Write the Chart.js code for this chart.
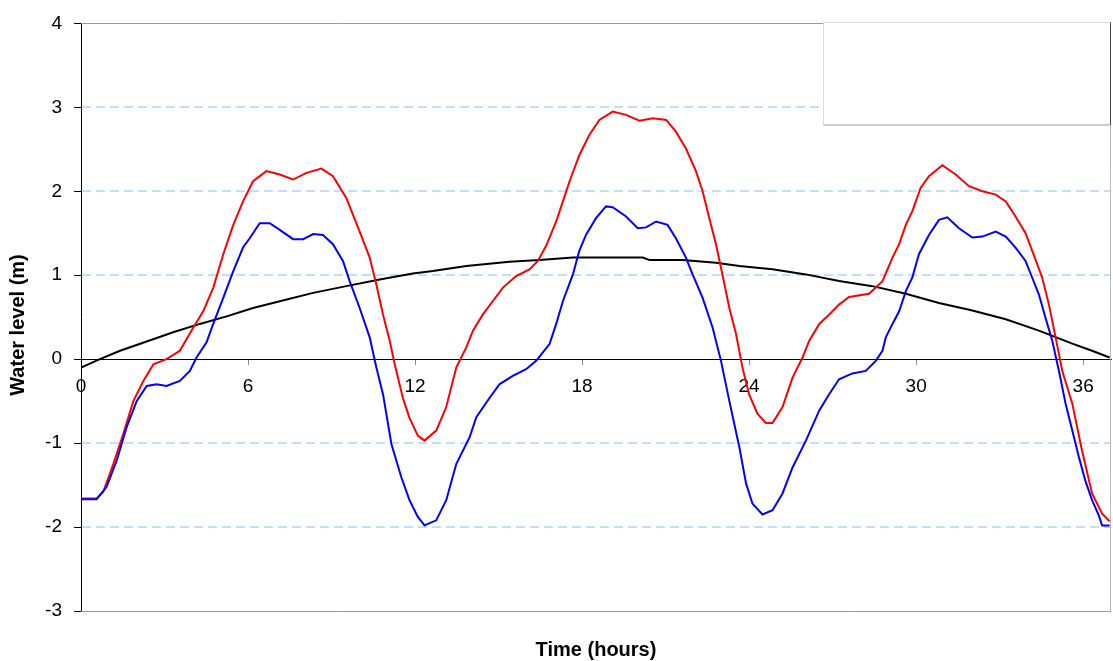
<!DOCTYPE html>
<html>
<head>
<meta charset="utf-8">
<script src="https://cdn.jsdelivr.net/npm/chart.js@4/dist/chart.umd.min.js"></script>
<style>
  html, body { margin: 0; padding: 0; background: #fff; }
  canvas { display: block; }
</style>
</head>
<body>
<canvas id="c" width="1113" height="661"></canvas>
<script>
// Tide gauge record: water level (m) against time (hours)
const redHours = [0, 0.56, 0.8, 1.16, 1.52, 1.88, 2.24, 2.6, 3.07, 3.55, 4.03, 4.39, 4.75, 5.11, 5.47, 5.82, 6.18, 6.66, 7.14, 7.62, 8.1, 8.64, 9.05, 9.53, 10.01, 10.37, 10.61, 10.85, 11.09, 11.27, 11.56, 11.8, 12.1, 12.34, 12.76, 13.12, 13.48, 13.84, 14.08, 14.43, 14.79, 15.15, 15.63, 16.11, 16.41, 16.71, 17.07, 17.31, 17.55, 17.9, 18.26, 18.62, 19.1, 19.58, 20.06, 20.54, 21.02, 21.37, 21.73, 22.09, 22.33, 22.57, 22.81, 22.99, 23.29, 23.53, 23.76, 24.0, 24.3, 24.6, 24.84, 25.2, 25.56, 25.92, 26.16, 26.52, 26.87, 27.23, 27.59, 28.31, 28.79, 29.15, 29.39, 29.63, 29.86, 30.16, 30.46, 30.94, 31.42, 31.9, 32.38, 32.86, 33.22, 33.57, 33.93, 34.17, 34.53, 34.77, 35.01, 35.25, 35.61, 35.96, 36.32, 36.68, 36.95];
const redLevels = [-1.66, -1.66, -1.58, -1.25, -0.89, -0.50, -0.26, -0.06, 0.00, 0.10, 0.375, 0.57, 0.85, 1.25, 1.60, 1.88, 2.12, 2.24, 2.20, 2.14, 2.22, 2.27, 2.18, 1.92, 1.52, 1.21, 0.89, 0.53, 0.22, -0.06, -0.46, -0.70, -0.91, -0.97, -0.85, -0.57, -0.10, 0.14, 0.34, 0.53, 0.69, 0.85, 0.99, 1.07, 1.17, 1.35, 1.64, 1.88, 2.12, 2.43, 2.67, 2.85, 2.95, 2.91, 2.84, 2.87, 2.85, 2.71, 2.51, 2.24, 2.00, 1.68, 1.37, 1.09, 0.61, 0.30, -0.10, -0.42, -0.65, -0.76, -0.76, -0.57, -0.22, 0.02, 0.22, 0.42, 0.53, 0.65, 0.74, 0.78, 0.93, 1.21, 1.37, 1.60, 1.76, 2.04, 2.18, 2.31, 2.20, 2.06, 2.00, 1.96, 1.88, 1.70, 1.50, 1.29, 0.97, 0.65, 0.26, -0.14, -0.53, -1.09, -1.60, -1.84, -1.93];

const blueHours = [0, 0.56, 0.92, 1.28, 1.64, 2.0, 2.36, 2.72, 3.07, 3.55, 3.91, 4.15, 4.51, 4.75, 5.11, 5.47, 5.82, 6.06, 6.42, 6.78, 7.14, 7.62, 7.98, 8.34, 8.69, 9.05, 9.41, 9.65, 10.01, 10.37, 10.61, 10.85, 11.15, 11.51, 11.8, 12.1, 12.34, 12.76, 13.12, 13.48, 13.96, 14.2, 14.68, 15.03, 15.51, 15.99, 16.35, 16.83, 17.07, 17.31, 17.67, 17.9, 18.14, 18.5, 18.86, 19.1, 19.58, 20.0, 20.3, 20.66, 21.07, 21.37, 21.73, 21.97, 22.33, 22.69, 22.99, 23.29, 23.65, 23.89, 24.12, 24.48, 24.84, 25.2, 25.56, 26.04, 26.52, 26.87, 27.23, 27.71, 28.19, 28.55, 28.79, 28.91, 29.15, 29.39, 29.63, 29.86, 30.1, 30.46, 30.82, 31.12, 31.54, 32.02, 32.38, 32.86, 33.22, 33.57, 33.93, 34.17, 34.41, 34.65, 34.89, 35.13, 35.37, 35.61, 35.85, 36.08, 36.32, 36.56, 36.68, 36.95];
const blueLevels = [-1.67, -1.67, -1.52, -1.21, -0.81, -0.50, -0.32, -0.30, -0.32, -0.26, -0.14, 0.02, 0.20, 0.42, 0.73, 1.05, 1.33, 1.44, 1.62, 1.62, 1.54, 1.43, 1.43, 1.49, 1.48, 1.37, 1.17, 0.93, 0.61, 0.26, -0.10, -0.42, -1.01, -1.41, -1.68, -1.88, -1.98, -1.92, -1.68, -1.25, -0.93, -0.69, -0.46, -0.30, -0.20, -0.12, -0.02, 0.18, 0.42, 0.69, 1.01, 1.29, 1.48, 1.68, 1.82, 1.81, 1.70, 1.56, 1.57, 1.64, 1.60, 1.44, 1.21, 1.01, 0.73, 0.375, -0.02, -0.50, -1.05, -1.48, -1.72, -1.85, -1.80, -1.60, -1.29, -0.97, -0.61, -0.42, -0.24, -0.17, -0.14, -0.02, 0.10, 0.26, 0.42, 0.57, 0.81, 0.97, 1.25, 1.48, 1.66, 1.69, 1.56, 1.45, 1.46, 1.52, 1.46, 1.33, 1.17, 0.97, 0.77, 0.49, 0.22, -0.14, -0.53, -0.85, -1.17, -1.45, -1.68, -1.86, -1.98, -1.98];

const blackHours = [0, 0.68, 1.4, 2.36, 3.31, 4.27, 5.23, 6.18, 7.14, 8.34, 9.53, 10.73, 11.92, 12.64, 13.84, 15.39, 16.47, 17.67, 20.18, 20.42, 21.61, 22.81, 23.65, 24.84, 26.04, 27.23, 28.43, 29.63, 30.82, 32.02, 33.22, 34.41, 35.61, 36.32, 36.95];
const blackLevels = [-0.10, 0.00, 0.10, 0.21, 0.32, 0.42, 0.51, 0.61, 0.69, 0.79, 0.87, 0.95, 1.02, 1.05, 1.11, 1.16, 1.18, 1.21, 1.21, 1.18, 1.18, 1.15, 1.11, 1.07, 1.01, 0.93, 0.87, 0.78, 0.67, 0.58, 0.475, 0.34, 0.185, 0.10, 0.02];

const hourTicks = [0, 6, 12, 18, 24, 30, 36];
const levelTicks = [-3, -2, -1, 0, 1, 2, 3, 4];

const xTitle = 'Time (hours)';
const yTitle = 'Water level (m)';

const FONT = '"Liberation Sans", Arial, Helvetica, sans-serif';

function pairs(xs, ys) {
  return xs.map((x, i) => ({ x: x, y: ys[i] }));
}

// Grid, frame, empty key box and axis titles
const framePlugin = {
  id: 'frame',
  beforeDatasetsDraw(chart) {
    const { ctx, chartArea: a } = chart;
    const ys = chart.scales.y;
    ctx.save();
    ctx.lineWidth = 1;
    const yt = Math.round(ys.getPixelForValue(4)) + 0.5;
    const yb = Math.round(ys.getPixelForValue(-3)) + 0.5;
    const y0 = Math.round(ys.getPixelForValue(0)) + 0.5;
    // dashed horizontal grid lines
    ctx.strokeStyle = 'rgb(172, 212, 255)';
    ctx.lineWidth = 1.5;
    ctx.setLineDash([9, 5]);
    ctx.beginPath();
    levelTicks.forEach((v) => {
      if (v === 0 || v === 4 || v === -3) return;
      const py = Math.round(ys.getPixelForValue(v));
      ctx.moveTo(a.left + 1, py); ctx.lineTo(a.right, py);
    });
    ctx.stroke();
    ctx.setLineDash([]);
    ctx.lineWidth = 1;
    // top and bottom plot edges
    ctx.strokeStyle = '#999999';
    ctx.beginPath();
    ctx.moveTo(a.left, yt); ctx.lineTo(a.right, yt);
    ctx.moveTo(a.left, yb); ctx.lineTo(a.right, yb);
    ctx.stroke();
    // zero line across the plot
    ctx.strokeStyle = '#000000';
    ctx.beginPath();
    ctx.moveTo(a.left, y0); ctx.lineTo(a.right, y0);
    ctx.stroke();
    // right edge
    ctx.strokeStyle = '#bbbbbb';
    ctx.beginPath();
    ctx.moveTo(a.right - 0.5, yt); ctx.lineTo(a.right - 0.5, yb);
    ctx.stroke();
    // key box
    const bx = 823.5, by = yt - 1, bw = a.right - 0.5 - bx, bh = 125 - by;
    ctx.fillStyle = '#ffffff';
    ctx.fillRect(bx, by, bw, bh);
    ctx.strokeStyle = '#dddddd';
    ctx.strokeRect(bx, by, bw, bh);
    ctx.strokeStyle = '#aaaaaa';
    ctx.beginPath();
    ctx.moveTo(bx, by + bh); ctx.lineTo(bx + bw, by + bh);
    ctx.stroke();
    ctx.strokeStyle = '#444444';
    ctx.beginPath();
    ctx.moveTo(bx + bw, by); ctx.lineTo(bx + bw, by + bh);
    ctx.stroke();
    ctx.restore();
  },
  afterDraw(chart) {
    const { ctx, chartArea: a } = chart;
    ctx.save();
    ctx.fillStyle = '#000000';
    ctx.font = 'bold 20px ' + FONT;
    ctx.textAlign = 'center';
    ctx.textBaseline = 'middle';
    ctx.fillText(xTitle, (a.left + a.right) / 2, 650);
    ctx.translate(18, 325);
    ctx.rotate(-Math.PI / 2);
    ctx.fillText(yTitle, 0, 0);
    ctx.restore();
  }
};

new Chart(document.getElementById('c'), {
  type: 'line',
  data: {
    datasets: [
      {
        label: 'Level A',
        data: pairs(blueHours, blueLevels),
        borderColor: '#0000ff',
        borderWidth: 2,
        pointRadius: 0,
        tension: 0,
        fill: false
      },
      {
        label: 'Level B',
        data: pairs(redHours, redLevels),
        borderColor: '#ff0000',
        borderWidth: 2,
        pointRadius: 0,
        tension: 0,
        fill: false
      },
      {
        label: 'Mean level',
        data: pairs(blackHours, blackLevels),
        borderColor: '#000000',
        borderWidth: 2,
        pointRadius: 0,
        tension: 0,
        fill: false
      }
    ]
  },
  options: {
    responsive: false,
    animation: false,
    devicePixelRatio: 1,
    layout: { padding: { left: 0, right: 2, top: 21, bottom: 50 } },
    plugins: {
      legend: { display: false },
      tooltip: { enabled: false },
      title: { display: false }
    },
    scales: {
      x: {
        type: 'linear',
        position: { y: 0 },
        min: 0,
        max: 37,
        afterBuildTicks: (s) => { s.ticks = hourTicks.map(v => ({ value: v })); },
        ticks: {
          includeBounds: false,
          color: '#000000',
          font: { family: FONT, size: 19 },
          padding: 11,
          maxRotation: 0
        },
        grid: {
          drawOnChartArea: false,
          drawTicks: true,
          tickLength: 5,
          tickColor: '#888888'
        },
        border: { display: true, color: '#000000', width: 1 }
      },
      y: {
        type: 'linear',
        min: -3,
        max: 4,
        afterBuildTicks: (s) => { s.ticks = levelTicks.map(v => ({ value: v })); },
        afterFit: (s) => { s.width = 81; },
        ticks: {
          color: '#000000',
          font: { family: FONT, size: 19 },
          padding: 12
        },
        grid: {
          drawOnChartArea: false,
          drawTicks: true,
          tickLength: 7,
          tickColor: '#000000'
        },
        border: { display: true, color: '#000000', width: 1 }
      }
    }
  },
  plugins: [framePlugin]
});
</script>
</body>
</html>
